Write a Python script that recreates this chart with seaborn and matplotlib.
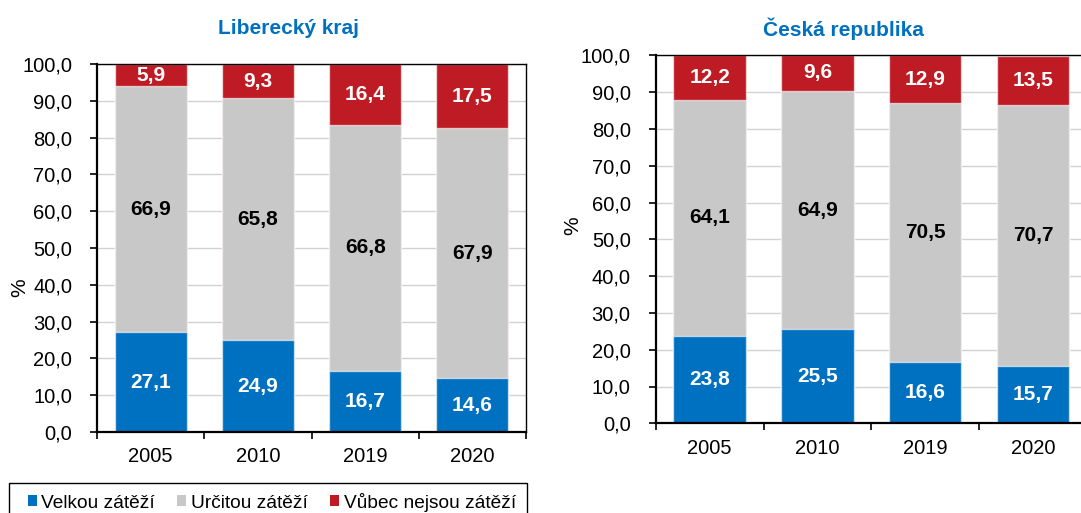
import numpy as np
import pandas as pd
import matplotlib
matplotlib.use("Agg")
import matplotlib.pyplot as plt
import seaborn as sns
from matplotlib.patches import Patch, Rectangle
from matplotlib.ticker import FuncFormatter

# ---------------- data ----------------
years = ["2005", "2010", "2019", "2020"]
series_names = ["Velkou zátěží", "Určitou zátěží", "Vůbec nejsou zátěží"]

lib_velkou = [27.1, 24.9, 16.7, 14.6]
lib_urcitou = [66.9, 65.8, 66.8, 67.9]
lib_vubec = [5.9, 9.3, 16.4, 17.5]

cr_velkou = [23.8, 25.5, 16.6, 15.7]
cr_urcitou = [64.1, 64.9, 70.5, 70.7]
cr_vubec = [12.2, 9.6, 12.9, 13.5]

titles = ["Liberecký kraj", "Česká republika"]
y_ticks = [0, 10, 20, 30, 40, 50, 60, 70, 80, 90, 100]
y_label = "%"

# ---------------- style ----------------
sns.set_theme(style="white")
plt.rcParams["font.family"] = ["Liberation Sans", "DejaVu Sans"]

colors = ["#0070C0", "#C8C8C8", "#BF1B24"]
label_colors = ["white", "black", "white"]
title_color = "#0070C0"

W, H = 1081, 513
fig = plt.figure(figsize=(W / 100, H / 100), dpi=100)

def px_axes(x0, y_top, x1, y_bot):
    return [x0 / W, 1 - y_bot / H, (x1 - x0) / W, (y_bot - y_top) / H]

ax1 = fig.add_axes(px_axes(97, 64, 526, 432))
ax2 = fig.add_axes(px_axes(655.7, 55.3, 1087, 423.3))

fmt = FuncFormatter(lambda v, p: f"{v:.1f}".replace(".", ","))


def draw(ax, layers, ylab_xy):
    arr = np.array(layers)
    cum = np.cumsum(arr, axis=0)
    # draw cumulative totals from top to bottom so lower layers cover upper ones
    for i in range(len(layers) - 1, -1, -1):
        d = pd.DataFrame({"year": years, "value": cum[i]})
        sns.barplot(data=d, x="year", y="value", order=years, color=colors[i],
                    saturation=1, width=0.67, edgecolor=(1, 1, 1, 0.6),
                    linewidth=1.0, errorbar=None, ax=ax, zorder=2)
    # value labels
    for i in range(len(layers)):
        for j in range(len(years)):
            center = cum[i][j] - arr[i][j] / 2
            ax.text(j, center, f"{arr[i][j]:.1f}".replace(".", ","),
                    ha="center", va="center", fontsize=15, fontweight="bold",
                    color=label_colors[i], zorder=5)
    ax.set_ylim(0, 100)
    ax.set_xlim(-0.5, 3.5)
    ax.set_yticks(y_ticks)
    ax.yaxis.set_major_formatter(fmt)
    ax.yaxis.grid(True, color="#D2D2D2", linewidth=1.0)
    ax.xaxis.grid(False)
    ax.set_axisbelow(True)
    ax.set_xlabel("")
    ax.set_ylabel(y_label, fontsize=15, color="black")
    ax.yaxis.set_label_coords(*ylab_xy)
    ax.tick_params(axis="y", which="major", left=True, direction="out",
                   length=5, width=1.2, color="black", pad=13,
                   labelsize=14.5, labelcolor="black")
    ax.set_xticks([-0.5, 0.5, 1.5, 2.5, 3.5], minor=True)
    ax.tick_params(axis="x", which="minor", bottom=True, direction="out",
                   length=5, width=1.2, color="black")
    ax.tick_params(axis="x", which="major", bottom=False, length=0, pad=11,
                   labelsize=14.5, labelcolor="black")
    for s in ["left", "bottom"]:
        ax.spines[s].set_color("black")
        ax.spines[s].set_linewidth(1.6)
    for s in ["top", "right"]:
        ax.spines[s].set_color("black")
        ax.spines[s].set_linewidth(1.0)
    for s in ax.spines.values():
        s.set_visible(True)


draw(ax1, [lib_velkou, lib_urcitou, lib_vubec], (-0.1585, 0.391))
draw(ax2, [cr_velkou, cr_urcitou, cr_vubec], (-0.171, 0.536))

# titles
fig.text(288 / W, 1 - 29 / H, titles[0], ha="center", va="center",
         fontsize=15, fontweight="bold", color=title_color)
fig.text(843 / W, 1 - 29 / H, titles[1], ha="center", va="center",
         fontsize=15, fontweight="bold", color=title_color)

# legend
handles = [Patch(facecolor=c, edgecolor="none") for c in colors]
leg = fig.legend(handles, series_names, loc="center left",
                 bbox_to_anchor=(27.6 / W, 1 - 502 / H), ncol=3,
                 frameon=False, borderpad=0, borderaxespad=0,
                 handlelength=0.47, handleheight=0.47, handletextpad=0.25,
                 columnspacing=1.15, fontsize=13.8)
for t in leg.get_texts():
    t.set_color("black")
fig.patches.append(Rectangle((8.6 / W, -0.05), (526.5 - 8.6) / W,
                             0.05 + (1 - 483 / H), transform=fig.transFigure,
                             fill=False, edgecolor="black", linewidth=1.0))

fig.savefig("out.png", dpi=100)
